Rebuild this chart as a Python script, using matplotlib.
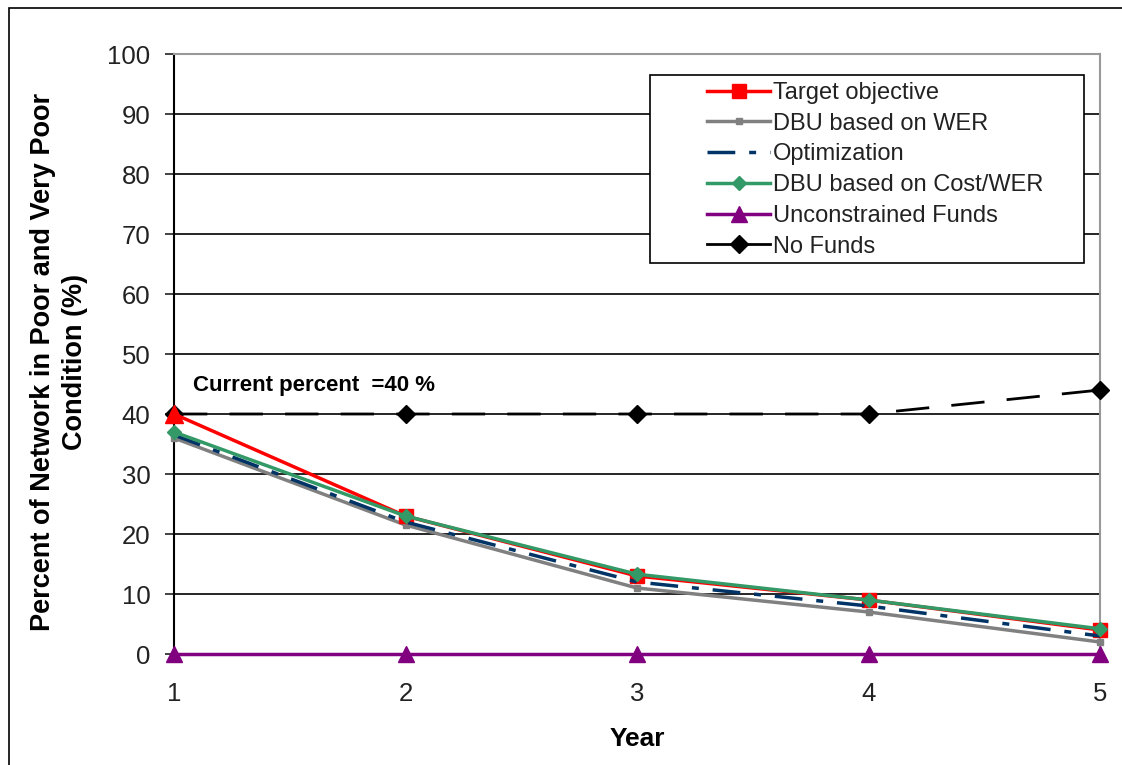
import matplotlib
matplotlib.use("Agg")
import matplotlib.pyplot as plt
from matplotlib.patches import Rectangle
from matplotlib.lines import Line2D

plt.rcParams['font.family'] = ['Liberation Sans', 'DejaVu Sans']

years = [1, 2, 3, 4, 5]
target_objective = [40, 23, 13, 9, 4]
dbu_wer = [36, 21.5, 11, 7, 2]
optimization = [36.5, 22, 12, 8, 3]
dbu_cost_wer = [37, 23, 13.3, 9, 4.2]
unconstrained = [0, 0, 0, 0, 0]
no_funds = [40, 40, 40, 40, 44]
y_ticks = list(range(0, 101, 10))

W, H = 1122, 765
fig = plt.figure(figsize=(W / 100, H / 100), dpi=100)
ax = fig.add_axes([174 / W, 1 - 654 / H, (1100 - 174) / W, (654 - 54) / H])

# outer frame around the whole chart
fig.patches.append(Rectangle((9 / W, -0.05), 1.2, 1 - 8 / H + 0.05,
                             transform=fig.transFigure, fill=False,
                             edgecolor='black', linewidth=1.2))

ax.plot(years, no_funds, color='black', linewidth=2, dashes=(12, 8),
        marker='D', markersize=9, label='No Funds', zorder=3, clip_on=False)
ax.plot(years, unconstrained, color='#800080', linewidth=2.5,
        marker='^', markersize=11, label='Unconstrained Funds', zorder=3,
        clip_on=False)
ax.plot(years, dbu_wer, color='#808080', linewidth=2.5,
        marker='s', markersize=4, label='DBU based on WER', zorder=4,
        clip_on=False)
ax.plot(years, target_objective, color='#FF0000', linewidth=2.5,
        marker='s', markersize=10, markevery=[1, 2, 3, 4],
        label='Target objective', zorder=5, clip_on=False)
ax.plot(years[:1], target_objective[:1], color='#FF0000', linestyle='none',
        marker='^', markersize=13, zorder=5, clip_on=False)
ax.plot(years, optimization, color='#003366', linewidth=2.5,
        dashes=(8, 4, 2, 4), label='Optimization', zorder=6, clip_on=False)
ax.plot(years, dbu_cost_wer, color='#339966', linewidth=2.5,
        marker='D', markersize=7, label='DBU based on Cost/WER', zorder=7,
        clip_on=False)

ax.set_xlim(1, 5)
ax.set_ylim(0, 100)
ax.set_xticks(years)
ax.set_yticks(y_ticks)
ax.yaxis.grid(True, color='black', linewidth=1.2)
ax.set_axisbelow(True)
ax.tick_params(axis='both', labelsize=18.5, colors='#222222', length=6.5,
               direction='out', width=1.2, pad=10.5)
ax.tick_params(axis='x', length=0, pad=20)
for side in ('top', 'right'):
    ax.spines[side].set_color('#999999')
    ax.spines[side].set_linewidth(1.5)
ax.spines['left'].set_linewidth(1.5)
ax.spines['bottom'].set_visible(False)

ax.set_xlabel('Year', fontsize=19, fontweight='bold', va='center')
ax.xaxis.set_label_coords(0.5, -(739 - 654) / 600, transform=ax.transAxes)
ax.set_ylabel('Percent of Network in Poor and Very Poor\nCondition (%)',
              fontsize=19.5, fontweight='bold', linespacing=1.3)
ax.yaxis.set_label_coords(-(174 - 88) / 926, 0.4875, transform=ax.transAxes)

ax.text(0.021, 0.447, 'Current percent  =40 %', transform=ax.transAxes,
        fontsize=16, fontweight='bold', va='center', ha='left')

# legend box drawn separately so the entries can sit inset from its left edge
fig.patches.append(Rectangle((650 / W, 1 - 263 / H), (1084 - 650) / W,
                             (263 - 75) / H, transform=fig.transFigure,
                             facecolor='white', edgecolor='black',
                             linewidth=1.2, zorder=10))
handles, labels = ax.get_legend_handles_labels()
hmap = dict(zip(labels, handles))
# the No Funds key is shown as a solid line with its diamond
hmap['No Funds'] = Line2D([], [], color='black', linewidth=2,
                          marker='D', markersize=9)
order = ['Target objective', 'DBU based on WER', 'Optimization',
         'DBU based on Cost/WER', 'Unconstrained Funds', 'No Funds']
leg = fig.legend([hmap[k] for k in order], order,
                 loc='upper left', bbox_to_anchor=(707 / W, 1 - 82 / H),
                 fontsize=17, frameon=False, borderpad=0,
                 handlelength=2.67, handletextpad=0.13, labelspacing=0.37,
                 borderaxespad=0)
leg.set_zorder(11)
for t in leg.get_texts():
    t.set_color('#222222')

fig.savefig('out.png', dpi=100)
